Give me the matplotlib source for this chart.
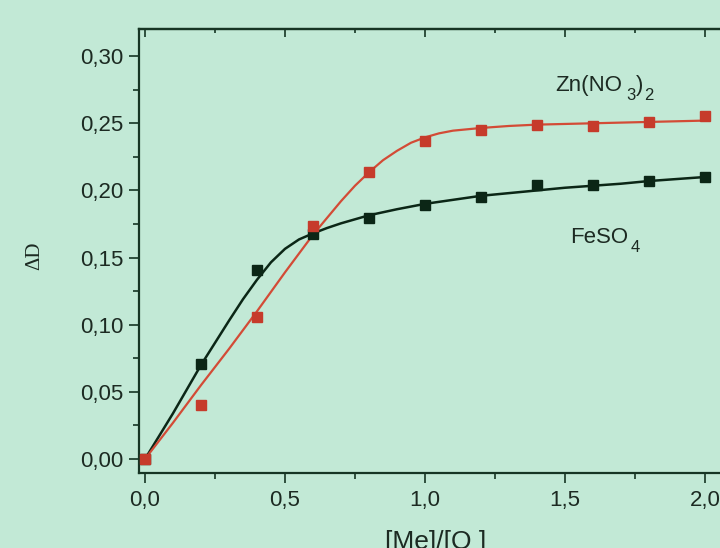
import matplotlib
matplotlib.use("Agg")
import matplotlib.pyplot as plt
from matplotlib.ticker import MultipleLocator, FixedLocator

# ---- data ----
x_pts = [0.0, 0.2, 0.4, 0.6, 0.8, 1.0, 1.2, 1.4, 1.6, 1.8, 2.0]
feso4_pts = [0.000, 0.0707, 0.1407, 0.1675, 0.1794, 0.189, 0.195, 0.204, 0.204, 0.207, 0.210]
zn_pts = [0.000, 0.040, 0.1057, 0.1735, 0.2137, 0.2368, 0.245, 0.2487, 0.248, 0.251, 0.2554]

# fitted curves
feso4_fit_x = [0.0, 0.1, 0.2, 0.3, 0.35, 0.4, 0.45, 0.5, 0.55, 0.6, 0.65, 0.7, 0.8, 0.9, 1.0,
               1.1, 1.2, 1.3, 1.4, 1.5, 1.6, 1.7, 1.8, 1.9, 2.0]
feso4_fit_y = [0.000, 0.034, 0.070, 0.103, 0.119, 0.1335, 0.1465, 0.1565, 0.1635, 0.168, 0.172,
               0.1755, 0.1815, 0.186, 0.190, 0.193, 0.196, 0.198, 0.200, 0.202, 0.2035, 0.205,
               0.207, 0.2085, 0.210]
zn_fit_x = [0.0, 0.1, 0.2, 0.3, 0.4, 0.5, 0.6, 0.7, 0.75, 0.8, 0.85, 0.9, 0.95, 1.0,
            1.05, 1.1, 1.2, 1.3, 1.4, 1.6, 1.8, 2.0]
zn_fit_y = [0.000, 0.027, 0.055, 0.082, 0.110, 0.139, 0.167, 0.192, 0.2035, 0.2135, 0.2225,
            0.2295, 0.2355, 0.2395, 0.2425, 0.2445, 0.2465, 0.248, 0.249, 0.250, 0.251, 0.252]

x_ticks = [0.0, 0.5, 1.0, 1.5, 2.0]
x_tick_labels = ["0,0", "0,5", "1,0", "1,5", "2,0"]
y_ticks = [0.00, 0.05, 0.10, 0.15, 0.20, 0.25, 0.30]
y_tick_labels = ["0,00", "0,05", "0,10", "0,15", "0,20", "0,25", "0,30"]

# ---- style ----
bg = "#c2e9d6"
dark = "#0b2616"
red_m = "#c63b2b"
red_l = "#d34b36"
axc = "#163524"
txt = "#1c2a22"

plt.rcParams["font.family"] = ["Liberation Sans", "DejaVu Sans"]

fig = plt.figure(figsize=(7.2, 5.48), dpi=100, facecolor=bg)
ax = fig.add_axes([139 / 720, 75 / 548, 594 / 720, 444 / 548])
ax.set_facecolor(bg)

ax.plot(feso4_fit_x, feso4_fit_y, color=dark, lw=1.8, zorder=2)
ax.plot(zn_fit_x, zn_fit_y, color=red_l, lw=1.6, zorder=2)
ax.plot(x_pts, feso4_pts, ls="none", marker="s", ms=7, color=dark, zorder=3)
ax.plot(x_pts, zn_pts, ls="none", marker="s", ms=7, color=red_m, zorder=3)

ax.set_xlim(-0.0214, 2.1)
ax.set_ylim(-0.0104, 0.3202)

ax.xaxis.set_major_locator(FixedLocator(x_ticks))
ax.set_xticklabels(x_tick_labels)
ax.xaxis.set_minor_locator(MultipleLocator(0.25))
ax.yaxis.set_major_locator(FixedLocator(y_ticks))
ax.set_yticklabels(y_tick_labels)
ax.yaxis.set_minor_locator(MultipleLocator(0.025))

for s in ax.spines.values():
    s.set_color(axc)
    s.set_linewidth(1.6)

ax.tick_params(axis="both", which="major", direction="out", length=7, width=1.2,
               color=axc, labelcolor=txt, labelsize=16)
ax.tick_params(axis="both", which="minor", direction="out", length=4, width=1.2, color=axc)
ax.tick_params(axis="x", which="major", pad=5)
ax.tick_params(axis="y", which="major", pad=4)
ax.tick_params(right=False, top=False, which="both")

sec = ax.secondary_xaxis("top")
sec.xaxis.set_major_locator(FixedLocator(x_ticks))
sec.xaxis.set_minor_locator(MultipleLocator(0.25))
sec.tick_params(which="major", direction="in", length=6, width=1.2, color=axc, labeltop=False)
sec.tick_params(which="minor", direction="in", length=3, width=1.2, color=axc)
sec.spines["top"].set_color(axc)
sec.spines["top"].set_linewidth(1.6)


def chem(x, y, parts):
    # parts: list of (string, dx_px, dy_px, size)
    for s, dx, dy, size in parts:
        ax.annotate(s, xy=(x, y), xycoords="data", xytext=(dx, dy),
                    textcoords="offset pixels", fontsize=size, color=txt,
                    ha="left", va="baseline")


chem(1.464, 0.274, [("Zn(NO", 0, 0, 16), ("3", 71, -9, 12), (")", 81, 0, 16), ("2", 89, -9, 12)])
chem(1.518, 0.161, [("FeSO", 0, 0, 16), ("4", 61, -9, 12)])

fig.text(35 / 720, 1 - 256 / 548, "ΔD", rotation=90, fontsize=15, family="Liberation Serif",
         color=txt, ha="center", va="center")
fig.text(436 / 720, 1 - 549 / 548, "[Me]/[Q ]", fontsize=19, color=txt,
         ha="center", va="baseline")

fig.savefig("out.png", dpi=100, facecolor=bg)
